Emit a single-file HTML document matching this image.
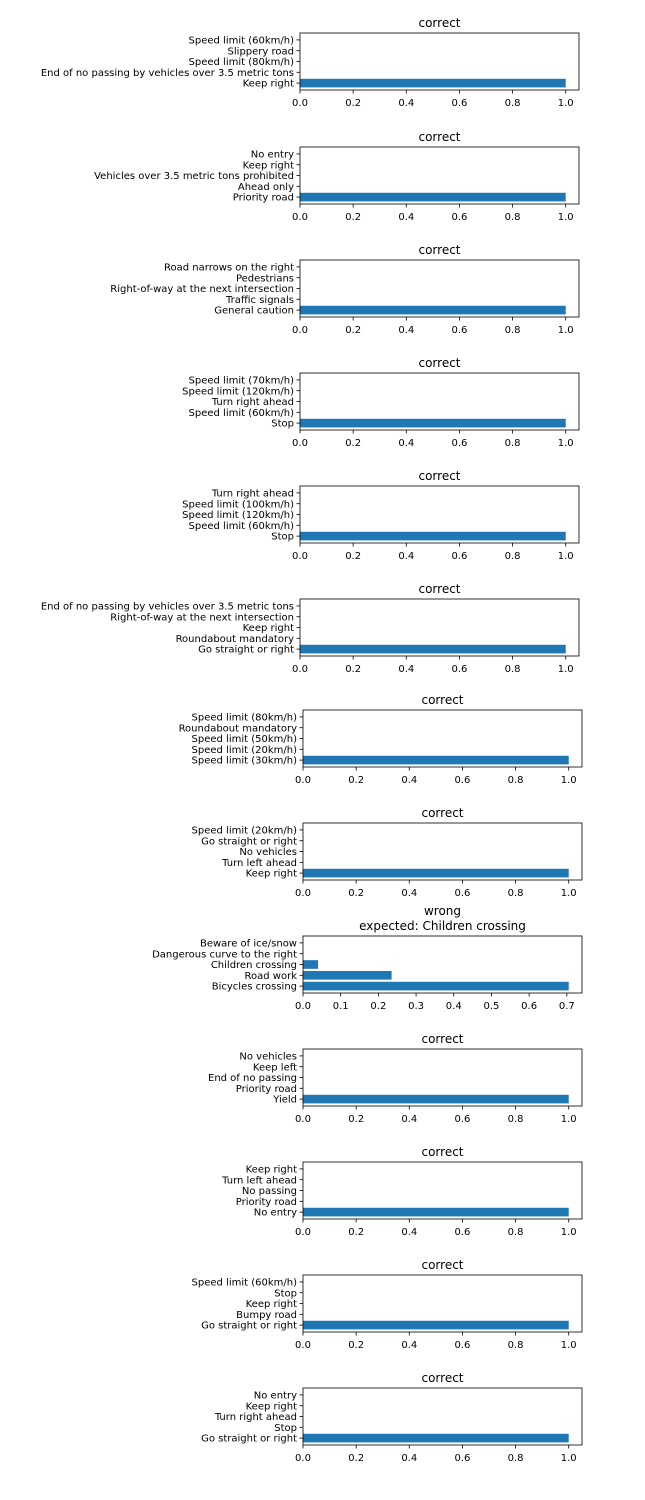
<!DOCTYPE html>
<html><head><meta charset="utf-8"><style>
body{margin:0;background:#fff}
svg{display:block;font-family:"DejaVu Sans","Liberation Sans",sans-serif}
</style></head><body>
<svg id="fig" width="645" height="1500" viewBox="0 0 645 1500" xmlns="http://www.w3.org/2000/svg"></svg>
<script>
// Labels listed bottom bar first (index 0 = bottom)
const labels0=["Keep right","End of no passing by vehicles over 3.5 metric tons","Speed limit (80km/h)","Slippery road","Speed limit (60km/h)"];
const labels1=["Priority road","Ahead only","Vehicles over 3.5 metric tons prohibited","Keep right","No entry"];
const labels2=["General caution","Traffic signals","Right-of-way at the next intersection","Pedestrians","Road narrows on the right"];
const labels3=["Stop","Speed limit (60km/h)","Turn right ahead","Speed limit (120km/h)","Speed limit (70km/h)"];
const labels4=["Stop","Speed limit (60km/h)","Speed limit (120km/h)","Speed limit (100km/h)","Turn right ahead"];
const labels5=["Go straight or right","Roundabout mandatory","Keep right","Right-of-way at the next intersection","End of no passing by vehicles over 3.5 metric tons"];
const labels6=["Speed limit (30km/h)","Speed limit (20km/h)","Speed limit (50km/h)","Roundabout mandatory","Speed limit (80km/h)"];
const labels7=["Keep right","Turn left ahead","No vehicles","Go straight or right","Speed limit (20km/h)"];
const labels8=["Bicycles crossing","Road work","Children crossing","Dangerous curve to the right","Beware of ice/snow"];
const labels9=["Yield","Priority road","End of no passing","Keep left","No vehicles"];
const labels10=["No entry","Priority road","No passing","Turn left ahead","Keep right"];
const labels11=["Go straight or right","Bumpy road","Keep right","Stop","Speed limit (60km/h)"];
const labels12=["Go straight or right","Stop","Turn right ahead","Keep right","No entry"];
const valsOne=[1.0,0,0,0,0];
const values8=[0.705,0.235,0.04,0,0];
const titles=["correct","correct","correct","correct","correct","correct","correct","correct","wrong\nexpected: Children crossing","correct","correct","correct","correct"];
const ticksOne=["0.0","0.2","0.4","0.6","0.8","1.0"];
const ticks8=["0.0","0.1","0.2","0.3","0.4","0.5","0.6","0.7"];
const allLabels=[labels0,labels1,labels2,labels3,labels4,labels5,labels6,labels7,labels8,labels9,labels10,labels11,labels12];
const allValues=allLabels.map((l,i)=>i===8?values8:valsOne);

const svg=document.getElementById('fig');
const NS="http://www.w3.org/2000/svg";
function mk(tag,attrs,parent){const e=document.createElementNS(NS,tag);for(const k in attrs)e.setAttribute(k,attrs[k]);(parent||svg).appendChild(e);return e;}
const tops=[33,147,260,373,486,599,710,823,936,1049,1162,1275,1388];
for(let p=0;p<13;p++){
  const g=mk('g',{});
  
  
  const L=p<6?300:303, R=p<6?579:582, T=tops[p], B=T+57, H=B-T;
  const vals=allValues[p], labs=allLabels[p];
  const xmax=Math.max(...vals)*1.05;
  const xs=v=>L+v/xmax*(R-L);
  const ys=i=>B-(i+0.64)/5.28*H;
  const bh=0.8/5.28*H;
  vals.forEach((v,i)=>{
    const r=mk('rect',{x:xs(0),y:ys(i)-bh/2,width:Math.max(0,xs(v)-xs(0)),height:bh,fill:'#1f77b4'},g);
    
    
    mk('line',{x1:L,x2:L-3.5,y1:ys(i),y2:ys(i),stroke:'#000','stroke-width':0.8},g);
    const t=mk('text',{x:L-6,y:ys(i)+3.6,'font-size':10,'text-anchor':'end',fill:'#000'},g);
    t.textContent=labs[i];
    
    
  });
  const ticks=p===8?ticks8:ticksOne;
  ticks.forEach(tk=>{
    const x=xs(parseFloat(tk));
    mk('line',{x1:x,x2:x,y1:B,y2:B+3.5,stroke:'#000','stroke-width':0.8},g);
    const t=mk('text',{x:x,y:B+16,'font-size':10,'text-anchor':'middle',fill:'#000'},g);
    t.textContent=tk;
    
    
  });
  mk('rect',{x:L,y:T,width:R-L,height:H,fill:'none',stroke:'#000','stroke-width':0.8},g);
  const lines=titles[p].split('\n');
  lines.forEach((ln,k)=>{
    const t=mk('text',{x:(L+R)/2,y:T-6-(lines.length-1-k)*15,'font-size':12,'text-anchor':'middle',fill:'#000'},g);
    t.textContent=ln;
    
    
  });
}
</script>
</body></html>
